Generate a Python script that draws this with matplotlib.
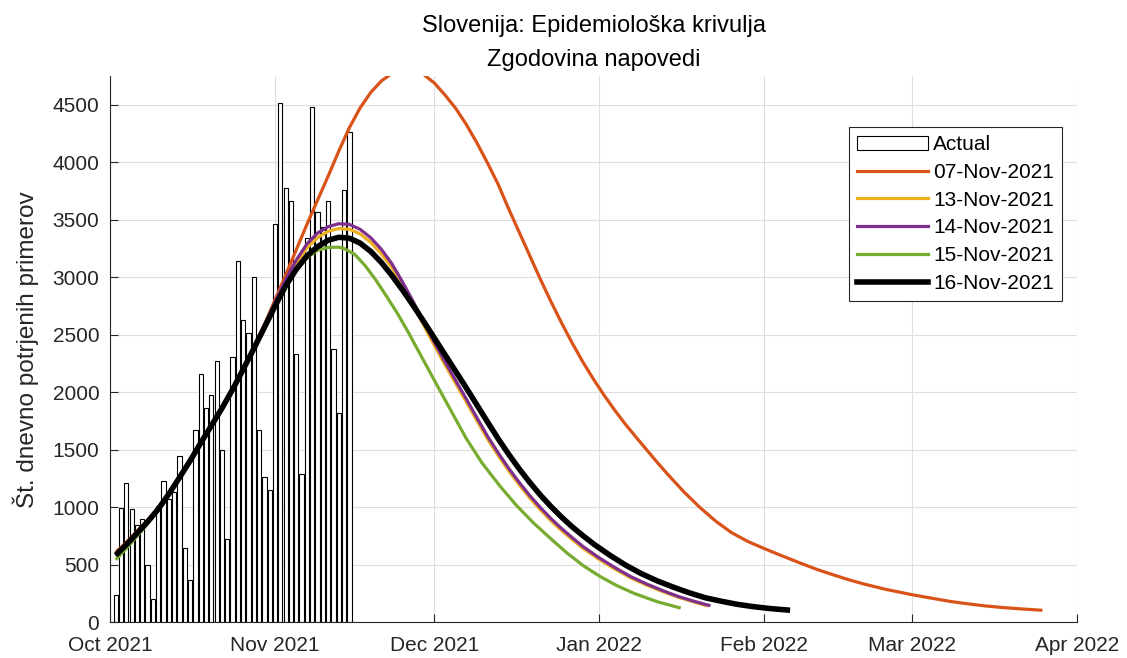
import datetime
import matplotlib
matplotlib.use('Agg')
import matplotlib.pyplot as plt
import matplotlib.dates as mdates
from matplotlib.patches import Patch
from matplotlib.lines import Line2D
import numpy as np

plt.rcParams['font.family'] = ['Liberation Sans', 'DejaVu Sans']

# days counted from 1 Oct 2021
start = mdates.date2num(datetime.datetime(2021, 10, 1))

bar_days = list(range(1, 46))
actual = [241, 994, 1214, 982, 849, 898, 500, 205, 1012, 1232, 1072, 1133, 1449, 645, 373,
          1675, 2163, 1861, 1976, 2277, 1500, 723, 2307, 3141, 2632, 2518, 3000, 1669, 1265, 1148,
          3461, 4512, 3777, 3663, 2331, 1292, 3343, 4482, 3566, 3434, 3663, 2374, 1825, 3759, 4265]

d07 = list(range(1, 100, 2)) + [101, 103, 105, 108, 111, 114, 117, 120, 123, 126, 130, 133, 136,
                                139, 142, 146, 151, 155, 158, 161, 164.5, 168, 171.5, 175.5]
v07 = [610, 697, 792, 890, 998, 1127, 1268, 1418, 1572, 1722, 1872, 2035, 2215, 2398, 2590,
       2805, 3020, 3240, 3460, 3670, 3880, 4097, 4301, 4471, 4606, 4706, 4772, 4803, 4800, 4762,
       4689, 4585, 4470, 4330, 4170, 3995, 3810, 3595, 3390, 3185, 2980, 2785, 2600, 2425, 2262,
       2112, 1973, 1843, 1722, 1610, 1500, 1390, 1285, 1135, 1000, 880, 780, 705, 645, 588,
       515, 462, 416, 372, 333, 288, 241, 208, 184, 165, 145, 130, 118, 106]

d13 = list(range(1, 90, 2)) + [92, 95, 98, 101, 104, 107, 110, 112.5]
v13 = [580, 674, 773, 873, 984, 1116, 1259, 1405, 1560, 1710, 1862, 2025, 2203, 2385, 2575,
       2775, 2960, 3120, 3255, 3345, 3400, 3424, 3418, 3378, 3305, 3205, 3085, 2930, 2760, 2582,
       2408, 2240, 2078, 1918, 1755, 1596, 1452, 1318, 1195, 1080, 977, 882, 797, 719, 644,
       549, 464, 387, 324, 268, 218, 176, 143]

d14 = list(range(1, 90, 2)) + [92, 95, 98, 101, 104, 107, 110, 113]
v14 = [578, 672, 771, 872, 983, 1116, 1259, 1405, 1560, 1710, 1862, 2026, 2205, 2388, 2580,
       2785, 2980, 3150, 3290, 3385, 3440, 3466, 3460, 3418, 3345, 3245, 3118, 2960, 2790, 2610,
       2435, 2267, 2105, 1944, 1781, 1620, 1475, 1340, 1216, 1101, 997, 901, 815, 736, 660,
       563, 477, 398, 334, 277, 225, 183, 145]

d15 = list(range(1, 44, 2)) + [44, 46, 48, 50, 52, 54, 56, 58, 60, 62, 64, 67, 70, 73.4, 76.5,
                               79.7, 83, 86, 89, 92.2, 95.3, 98.5, 103, 107.4]
v15 = [545, 645, 750, 858, 975, 1110, 1255, 1403, 1558, 1708, 1860, 2023, 2198, 2380, 2565,
       2745, 2920, 3060, 3170, 3235, 3260, 3262, 3250, 3200, 3100, 2975, 2835, 2690, 2530, 2360,
       2190, 2020, 1852, 1600, 1385, 1183, 1015, 864, 725, 603, 495, 400, 322, 255, 180, 125]

d16 = list(range(1, 92, 2)) + [94, 97, 100, 103, 106, 109, 112, 115, 118, 121, 124, 128]
v16 = [585, 677, 775, 875, 985, 1117, 1259, 1405, 1560, 1710, 1862, 2025, 2200, 2380, 2565,
       2750, 2926, 3070, 3186, 3266, 3322, 3348, 3340, 3298, 3226, 3130, 3016, 2890, 2756, 2616,
       2472, 2328, 2184, 2040, 1892, 1744, 1598, 1462, 1334, 1216, 1106, 1006, 914, 830, 754,
       682, 586, 499, 424, 361, 307, 258, 215, 185, 158, 138, 122, 106]

forecasts = [('07-Nov-2021', d07, v07, '#D95319', 2.3),
             ('13-Nov-2021', d13, v13, '#EDB120', 2.3),
             ('14-Nov-2021', d14, v14, '#7E2F8E', 2.3),
             ('15-Nov-2021', d15, v15, '#77AC30', 2.3),
             ('16-Nov-2021', d16, v16, 'black', 4.0)]

fig = plt.figure(figsize=(11.27, 6.58), dpi=100)
ax = fig.add_axes([0.098, 0.054, 0.8575, 0.8305])

ax.bar(start + np.array(bar_days), actual, width=0.8, color='white', edgecolor='black',
       linewidth=0.8, zorder=2)

handles = [Patch(facecolor='white', edgecolor='black', linewidth=0.8, label='Actual')]
for name, d, v, c, lw in forecasts:
    ax.plot(start + np.array(d), v, color=c, linewidth=lw, zorder=3, solid_capstyle='butt',
            solid_joinstyle='round')
    handles.append(Line2D([], [], color=c, linewidth=lw, label=name))

ax.set_xlim(start, mdates.date2num(datetime.datetime(2022, 4, 1)))
ax.set_ylim(0, 4750)
ax.xaxis.set_major_locator(mdates.MonthLocator())
ax.xaxis.set_major_formatter(mdates.DateFormatter('%b %Y'))
ax.set_yticks(range(0, 5000, 500))

ax.grid(True, color='#dedede', linewidth=0.8, zorder=0)
ax.set_axisbelow(True)
for s in ['top', 'right']:
    ax.spines[s].set_visible(False)
for s in ['left', 'bottom']:
    ax.spines[s].set_color('#262626')
ax.tick_params(direction='in', length=6, labelsize=15, colors='#262626', pad=8)
ax.tick_params(axis='x', pad=10)

ax.set_ylabel('Št. dnevno potrjenih primerov', fontsize=17.5, color='#262626', labelpad=10)
ax.set_title('Slovenija: Epidemiološka krivulja\nZgodovina napovedi', fontsize=17,
             color='black', linespacing=1.7, pad=7)

leg = ax.legend(handles=handles, loc='upper right', bbox_to_anchor=(0.985, 0.907),
                borderaxespad=0, fontsize=15, handlelength=3.4, handletextpad=0.25,
                labelspacing=0.42, fancybox=False, framealpha=1, edgecolor='#262626',
                borderpad=0.4)
leg.get_frame().set_linewidth(0.8)

fig.savefig('out.png', dpi=100)
